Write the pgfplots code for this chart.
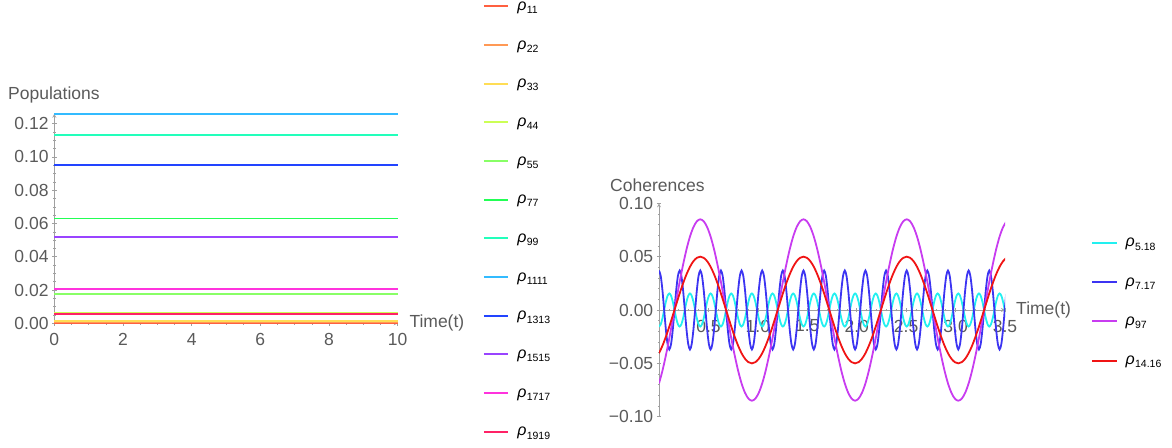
\documentclass[border=0pt]{standalone}
\usepackage{fontspec}
\setmainfont{Liberation Sans}
\usepackage{pgfplots}
\pgfplotsset{compat=1.18}
\usepackage{pgfplotstable}

\definecolor{c11}{HTML}{FF6040}
\definecolor{c22}{HTML}{FF9955}
\definecolor{c33}{HTML}{FFDD55}
\definecolor{c44}{HTML}{CCFF55}
\definecolor{c55}{HTML}{88FF66}
\definecolor{c77}{HTML}{22FF55}
\definecolor{c99}{HTML}{22FFBB}
\definecolor{c1111}{HTML}{33BBFF}
\definecolor{c1313}{HTML}{2244FF}
\definecolor{c1515}{HTML}{9944FF}
\definecolor{c1717}{HTML}{FF33DD}
\definecolor{c1919}{HTML}{FF2266}
\definecolor{kcy}{HTML}{22F0F0}
\definecolor{kbl}{HTML}{3C34F2}
\definecolor{kmg}{HTML}{C83CF0}
\definecolor{krd}{HTML}{F01414}
\definecolor{axgray}{HTML}{A0A0A0}
\definecolor{txgray}{HTML}{5A5A5A}

\newcommand\rl[1]{{\itshape ρ}\kern0.3pt\raisebox{-3.3pt}{\fontsize{10.5}{11}\selectfont #1}}
\newcommand\tfont{\fontsize{17.5}{20}\selectfont}

% fast oscillating coherences: t, rho_{5.18}, rho_{7.17}
\pgfplotstableread[row sep=\\]{
t c b\\
0 -0.0155 0.037\\ 0.0174 -0.0134 0.032\\ 0.0348 -0.0078 0.0185\\ 0.0522 0 0\\ 0.0696 0.0078 -0.0185\\ 0.087 0.0134 -0.032\\ 0.1044 0.0155 -0.037\\ 0.1218 0.0134 -0.032\\ 0.1392 0.0078 -0.0185\\ 0.1566 0 0\\ 0.174 -0.0078 0.0185\\ 0.1914 -0.0134 0.032\\
0.2088 -0.0155 0.037\\ 0.2262 -0.0134 0.032\\ 0.2436 -0.0078 0.0185\\ 0.261 0 0\\ 0.2784 0.0078 -0.0185\\ 0.2958 0.0134 -0.032\\ 0.3132 0.0155 -0.037\\ 0.3306 0.0134 -0.032\\ 0.348 0.0078 -0.0185\\ 0.3654 0 0\\ 0.3828 -0.0078 0.0185\\ 0.4002 -0.0134 0.032\\
0.4176 -0.0155 0.037\\ 0.435 -0.0134 0.032\\ 0.4524 -0.0078 0.0185\\ 0.4698 0 0\\ 0.4872 0.0078 -0.0185\\ 0.5046 0.0134 -0.032\\ 0.522 0.0155 -0.037\\ 0.5394 0.0134 -0.032\\ 0.5568 0.0078 -0.0185\\ 0.5742 0 0\\ 0.5916 -0.0078 0.0185\\ 0.609 -0.0134 0.032\\
0.6264 -0.0155 0.037\\ 0.6438 -0.0134 0.032\\ 0.6612 -0.0078 0.0185\\ 0.6786 0 0\\ 0.696 0.0078 -0.0185\\ 0.7134 0.0134 -0.032\\ 0.7308 0.0155 -0.037\\ 0.7482 0.0134 -0.032\\ 0.7656 0.0078 -0.0185\\ 0.783 0 0\\ 0.8004 -0.0078 0.0185\\ 0.8178 -0.0134 0.032\\
0.8352 -0.0155 0.037\\ 0.8526 -0.0134 0.032\\ 0.87 -0.0078 0.0185\\ 0.8874 0 0\\ 0.9048 0.0078 -0.0185\\ 0.9222 0.0134 -0.032\\ 0.9396 0.0155 -0.037\\ 0.957 0.0134 -0.032\\ 0.9744 0.0078 -0.0185\\ 0.9918 0 0\\ 1.0092 -0.0078 0.0185\\ 1.0266 -0.0134 0.032\\
1.044 -0.0155 0.037\\ 1.0614 -0.0134 0.032\\ 1.0788 -0.0078 0.0185\\ 1.0962 0 0\\ 1.1136 0.0078 -0.0185\\ 1.131 0.0134 -0.032\\ 1.1484 0.0155 -0.037\\ 1.1658 0.0134 -0.032\\ 1.1832 0.0078 -0.0185\\ 1.2006 0 0\\ 1.218 -0.0078 0.0185\\ 1.2354 -0.0134 0.032\\
1.2528 -0.0155 0.037\\ 1.2702 -0.0134 0.032\\ 1.2876 -0.0078 0.0185\\ 1.305 0 0\\ 1.3224 0.0078 -0.0185\\ 1.3398 0.0134 -0.032\\ 1.3572 0.0155 -0.037\\ 1.3746 0.0134 -0.032\\ 1.392 0.0078 -0.0185\\ 1.4094 0 0\\ 1.4268 -0.0078 0.0185\\ 1.4442 -0.0134 0.032\\
1.4616 -0.0155 0.037\\ 1.479 -0.0134 0.032\\ 1.4964 -0.0078 0.0185\\ 1.5138 0 0\\ 1.5312 0.0078 -0.0185\\ 1.5486 0.0134 -0.032\\ 1.566 0.0155 -0.037\\ 1.5834 0.0134 -0.032\\ 1.6008 0.0078 -0.0185\\ 1.6182 0 0\\ 1.6356 -0.0078 0.0185\\ 1.653 -0.0134 0.032\\
1.6704 -0.0155 0.037\\ 1.6878 -0.0134 0.032\\ 1.7052 -0.0078 0.0185\\ 1.7226 0 0\\ 1.74 0.0078 -0.0185\\ 1.7574 0.0134 -0.032\\ 1.7748 0.0155 -0.037\\ 1.7922 0.0134 -0.032\\ 1.8096 0.0078 -0.0185\\ 1.827 0 0\\ 1.8444 -0.0078 0.0185\\ 1.8618 -0.0134 0.032\\
1.8792 -0.0155 0.037\\ 1.8966 -0.0134 0.032\\ 1.914 -0.0078 0.0185\\ 1.9314 0 0\\ 1.9488 0.0078 -0.0185\\ 1.9662 0.0134 -0.032\\ 1.9836 0.0155 -0.037\\ 2.001 0.0134 -0.032\\ 2.0184 0.0078 -0.0185\\ 2.0358 0 0\\ 2.0532 -0.0078 0.0185\\ 2.0706 -0.0134 0.032\\
2.088 -0.0155 0.037\\ 2.1054 -0.0134 0.032\\ 2.1228 -0.0078 0.0185\\ 2.1402 0 0\\ 2.1576 0.0078 -0.0185\\ 2.175 0.0134 -0.032\\ 2.1924 0.0155 -0.037\\ 2.2098 0.0134 -0.032\\ 2.2272 0.0078 -0.0185\\ 2.2446 0 0\\ 2.262 -0.0078 0.0185\\ 2.2794 -0.0134 0.032\\
2.2968 -0.0155 0.037\\ 2.3142 -0.0134 0.032\\ 2.3316 -0.0078 0.0185\\ 2.349 0 0\\ 2.3664 0.0078 -0.0185\\ 2.3838 0.0134 -0.032\\ 2.4012 0.0155 -0.037\\ 2.4186 0.0134 -0.032\\ 2.436 0.0078 -0.0185\\ 2.4534 0 0\\ 2.4708 -0.0078 0.0185\\ 2.4882 -0.0134 0.032\\
2.5056 -0.0155 0.037\\ 2.523 -0.0134 0.032\\ 2.5404 -0.0078 0.0185\\ 2.5578 0 0\\ 2.5752 0.0078 -0.0185\\ 2.5926 0.0134 -0.032\\ 2.61 0.0155 -0.037\\ 2.6274 0.0134 -0.032\\ 2.6448 0.0078 -0.0185\\ 2.6622 0 0\\ 2.6796 -0.0078 0.0185\\ 2.697 -0.0134 0.032\\
2.7144 -0.0155 0.037\\ 2.7318 -0.0134 0.032\\ 2.7492 -0.0078 0.0185\\ 2.7666 0 0\\ 2.784 0.0078 -0.0185\\ 2.8014 0.0134 -0.032\\ 2.8188 0.0155 -0.037\\ 2.8362 0.0134 -0.032\\ 2.8536 0.0078 -0.0185\\ 2.871 0 0\\ 2.8884 -0.0078 0.0185\\ 2.9058 -0.0134 0.032\\
2.9232 -0.0155 0.037\\ 2.9406 -0.0134 0.032\\ 2.958 -0.0078 0.0185\\ 2.9754 0 0\\ 2.9928 0.0078 -0.0185\\ 3.0102 0.0134 -0.032\\ 3.0276 0.0155 -0.037\\ 3.045 0.0134 -0.032\\ 3.0624 0.0078 -0.0185\\ 3.0798 0 0\\ 3.0972 -0.0078 0.0185\\ 3.1146 -0.0134 0.032\\
3.132 -0.0155 0.037\\ 3.1494 -0.0134 0.032\\ 3.1668 -0.0078 0.0185\\ 3.1842 0 0\\ 3.2016 0.0078 -0.0185\\ 3.219 0.0134 -0.032\\ 3.2364 0.0155 -0.037\\ 3.2538 0.0134 -0.032\\ 3.2712 0.0078 -0.0185\\ 3.2886 0 0\\ 3.306 -0.0078 0.0185\\ 3.3234 -0.0134 0.032\\
3.3408 -0.0155 0.037\\ 3.3582 -0.0134 0.032\\ 3.3756 -0.0078 0.0185\\ 3.393 0 0\\ 3.4104 0.0078 -0.0185\\ 3.4278 0.0134 -0.032\\ 3.4452 0.0155 -0.037\\ 3.4626 0.0134 -0.032\\ 3.48 0.0078 -0.0185\\ 3.4974 0 0\\ 3.5148 -0.0078 0.0185\\
}\fastdata

% slow coherences: t, rho_{97}, rho_{14.16}
\pgfplotstableread[row sep=\\]{
t m r\\
0 -0.0688 -0.0405\\ 0.0348 -0.0569 -0.0335\\ 0.0696 -0.0425 -0.025\\ 0.1044 -0.0263 -0.0155\\ 0.1392 -0.0089 -0.0052\\ 0.174 0.0089 0.0052\\ 0.2088 0.0263 0.0155\\ 0.2436 0.0425 0.025\\ 0.2784 0.0569 0.0335\\ 0.3132 0.0688 0.0405\\ 0.348 0.0776 0.0457\\ 0.3828 0.0831 0.0489\\ 0.4176 0.085 0.05\\ 0.4524 0.0831 0.0489\\ 0.4872 0.0776 0.0457\\ 0.522 0.0688 0.0405\\ 0.5568 0.0569 0.0335\\ 0.5916 0.0425 0.025\\ 0.6264 0.0263 0.0155\\ 0.6612 0.0089 0.0052\\ 0.696 -0.0089 -0.0052\\ 0.7308 -0.0263 -0.0155\\ 0.7656 -0.0425 -0.025\\ 0.8004 -0.0569 -0.0335\\ 0.8352 -0.0688 -0.0405\\ 0.87 -0.0776 -0.0457\\ 0.9048 -0.0831 -0.0489\\ 0.9396 -0.085 -0.05\\ 0.9744 -0.0831 -0.0489\\ 1.0092 -0.0776 -0.0457\\
1.044 -0.0688 -0.0405\\ 1.0788 -0.0569 -0.0335\\ 1.1136 -0.0425 -0.025\\ 1.1484 -0.0263 -0.0155\\ 1.1832 -0.0089 -0.0052\\ 1.218 0.0089 0.0052\\ 1.2528 0.0263 0.0155\\ 1.2876 0.0425 0.025\\ 1.3224 0.0569 0.0335\\ 1.3572 0.0688 0.0405\\ 1.392 0.0776 0.0457\\ 1.4268 0.0831 0.0489\\ 1.4616 0.085 0.05\\ 1.4964 0.0831 0.0489\\ 1.5312 0.0776 0.0457\\ 1.566 0.0688 0.0405\\ 1.6008 0.0569 0.0335\\ 1.6356 0.0425 0.025\\ 1.6704 0.0263 0.0155\\ 1.7052 0.0089 0.0052\\ 1.74 -0.0089 -0.0052\\ 1.7748 -0.0263 -0.0155\\ 1.8096 -0.0425 -0.025\\ 1.8444 -0.0569 -0.0335\\ 1.8792 -0.0688 -0.0405\\ 1.914 -0.0776 -0.0457\\ 1.9488 -0.0831 -0.0489\\ 1.9836 -0.085 -0.05\\ 2.0184 -0.0831 -0.0489\\ 2.0532 -0.0776 -0.0457\\
2.088 -0.0688 -0.0405\\ 2.1228 -0.0569 -0.0335\\ 2.1576 -0.0425 -0.025\\ 2.1924 -0.0263 -0.0155\\ 2.2272 -0.0089 -0.0052\\ 2.262 0.0089 0.0052\\ 2.2968 0.0263 0.0155\\ 2.3316 0.0425 0.025\\ 2.3664 0.0569 0.0335\\ 2.4012 0.0688 0.0405\\ 2.436 0.0776 0.0457\\ 2.4708 0.0831 0.0489\\ 2.5056 0.085 0.05\\ 2.5404 0.0831 0.0489\\ 2.5752 0.0776 0.0457\\ 2.61 0.0688 0.0405\\ 2.6448 0.0569 0.0335\\ 2.6796 0.0425 0.025\\ 2.7144 0.0263 0.0155\\ 2.7492 0.0089 0.0052\\ 2.784 -0.0089 -0.0052\\ 2.8188 -0.0263 -0.0155\\ 2.8536 -0.0425 -0.025\\ 2.8884 -0.0569 -0.0335\\ 2.9232 -0.0688 -0.0405\\ 2.958 -0.0776 -0.0457\\ 2.9928 -0.0831 -0.0489\\ 3.0276 -0.085 -0.05\\ 3.0624 -0.0831 -0.0489\\ 3.0972 -0.0776 -0.0457\\
3.132 -0.0688 -0.0405\\ 3.1668 -0.0569 -0.0335\\ 3.2016 -0.0425 -0.025\\ 3.2364 -0.0263 -0.0155\\ 3.2712 -0.0089 -0.0052\\ 3.306 0.0089 0.0052\\ 3.3408 0.0263 0.0155\\ 3.3756 0.0425 0.025\\ 3.4104 0.0569 0.0335\\ 3.4452 0.0688 0.0405\\ 3.48 0.0776 0.0457\\ 3.5148 0.0831 0.0489\\
}\slowdata

\pgfplotsset{
  mm/.style={
    scale only axis,
    axis line style={draw=axgray, line width=0.8pt, -},
    x axis line style={-}, y axis line style={-},
    tick style={draw=axgray, line width=0.6pt},
    major tick length=4.5pt, minor tick length=2.5pt,
    tick align=inside,
    tick label style={font=\tfont, text=txgray},
    xticklabel style={yshift=-4pt},
    /pgf/number format/assume math mode=true,
    legend cell align=left,
    legend image code/.code={\draw[##1] (0pt,0pt) -- (24.6pt,0pt);},
    legend style={draw=none, fill=none, anchor=west, inner sep=0pt,
      column sep=8pt,
      nodes={inner sep=0pt, text height=11pt, text depth=3pt, font=\fontsize{16}{19}\selectfont}},
    every axis plot/.append style={line cap=butt},
  }
}

\begin{document}
\begin{tikzpicture}
\path[use as bounding box] (0,0) rectangle (1172pt,447pt);

% ---------------- Populations ----------------
\begin{axis}[mm,
  at={(54.3pt,123.7pt)}, anchor=south west,
  width=343.4pt, height=209.6pt,
  xmin=0, xmax=10, ymin=0, ymax=0.126,
  axis x line=bottom, axis y line=left,
  clip=false,
  xtick={0,2,4,6,8,10},
  ytick={0,0.02,0.04,0.06,0.08,0.1,0.12},
  yticklabels={0.00,0.02,0.04,0.06,0.08,0.10,0.12},
  minor x tick num=3, minor y tick num=3,
  xlabel={Time(t)},
  xlabel style={at={(rel axis cs:1,0)}, anchor=west, inner sep=0pt, xshift=11.6pt, font=\tfont, text=txgray},
  ylabel={Populations},
  ylabel style={rotate=-90, at={(rel axis cs:-0.1348,1.0892)}, anchor=west, inner sep=0pt, font=\tfont, text=txgray},
  legend style={at={(1.2475,0.4975)}, row sep=24.67pt},
  every axis plot/.append style={line width=1.8pt},
]
\addplot[c11]   coordinates {(0,0.0004) (10,0.0004)}; \addlegendentry{\rl{11}}
\addplot[c22]   coordinates {(0,0.0009) (10,0.0009)}; \addlegendentry{\rl{22}}
\addplot[c33]   coordinates {(0,0.0015) (10,0.0015)}; \addlegendentry{\rl{33}}
\addplot[c44]   coordinates {(0,0.0065) (10,0.0065)}; \addlegendentry{\rl{44}}
\addplot[c55]   coordinates {(0,0.0178) (10,0.0178)}; \addlegendentry{\rl{55}}
\addplot[c77]   coordinates {(0,0.0630) (10,0.0630)}; \addlegendentry{\rl{77}}
\addplot[c99]   coordinates {(0,0.1134) (10,0.1134)}; \addlegendentry{\rl{99}}
\addplot[c1111] coordinates {(0,0.1258) (10,0.1258)}; \addlegendentry{\rl{1111}}
\addplot[c1313] coordinates {(0,0.0952) (10,0.0952)}; \addlegendentry{\rl{1313}}
\addplot[c1515] coordinates {(0,0.0518) (10,0.0518)}; \addlegendentry{\rl{1515}}
\addplot[c1717] coordinates {(0,0.0206) (10,0.0206)}; \addlegendentry{\rl{1717}}
\addplot[c1919] coordinates {(0,0.0058) (10,0.0058)}; \addlegendentry{\rl{1919}}
\end{axis}

% ---------------- Coherences ----------------
\begin{axis}[mm,
  at={(659pt,30.3pt)}, anchor=south west,
  width=346pt, height=213.4pt,
  xmin=0, xmax=3.5, ymin=-0.1, ymax=0.1,
  axis x line=middle, axis y line=left,
  xtick={0,0.5,1,1.5,2,2.5,3,3.5},
  xticklabels={,0.5,1.0,1.5,2.0,2.5,3.0,3.5},
  ytick={-0.1,-0.05,0,0.05,0.1},
  yticklabels={−0.10,−0.05,0.00,0.05,0.10},
  minor x tick num=4, minor y tick num=4,
  xlabel={Time(t)},
  xlabel style={at={(rel axis cs:1,0.5)}, anchor=west, inner sep=0pt, xshift=11pt, font=\tfont, text=txgray},
  ylabel={Coherences},
  ylabel style={rotate=-90, at={(rel axis cs:-0.1416,1.0858)}, anchor=west, inner sep=0pt, font=\tfont, text=txgray},
  legend style={at={(1.2486,0.5389)}, row sep=25.3pt},
  every axis plot/.append style={line width=1.8pt, smooth},
]
\addplot[kcy] table[x=t,y=c]{\fastdata}; \addlegendentry{\rl{5.18}}
\addplot[kbl] table[x=t,y=b]{\fastdata}; \addlegendentry{\rl{7.17}}
\addplot[kmg] table[x=t,y=m]{\slowdata}; \addlegendentry{\rl{97}}
\addplot[krd] table[x=t,y=r]{\slowdata}; \addlegendentry{\rl{14.16}}
\end{axis}
\end{tikzpicture}
\end{document}
